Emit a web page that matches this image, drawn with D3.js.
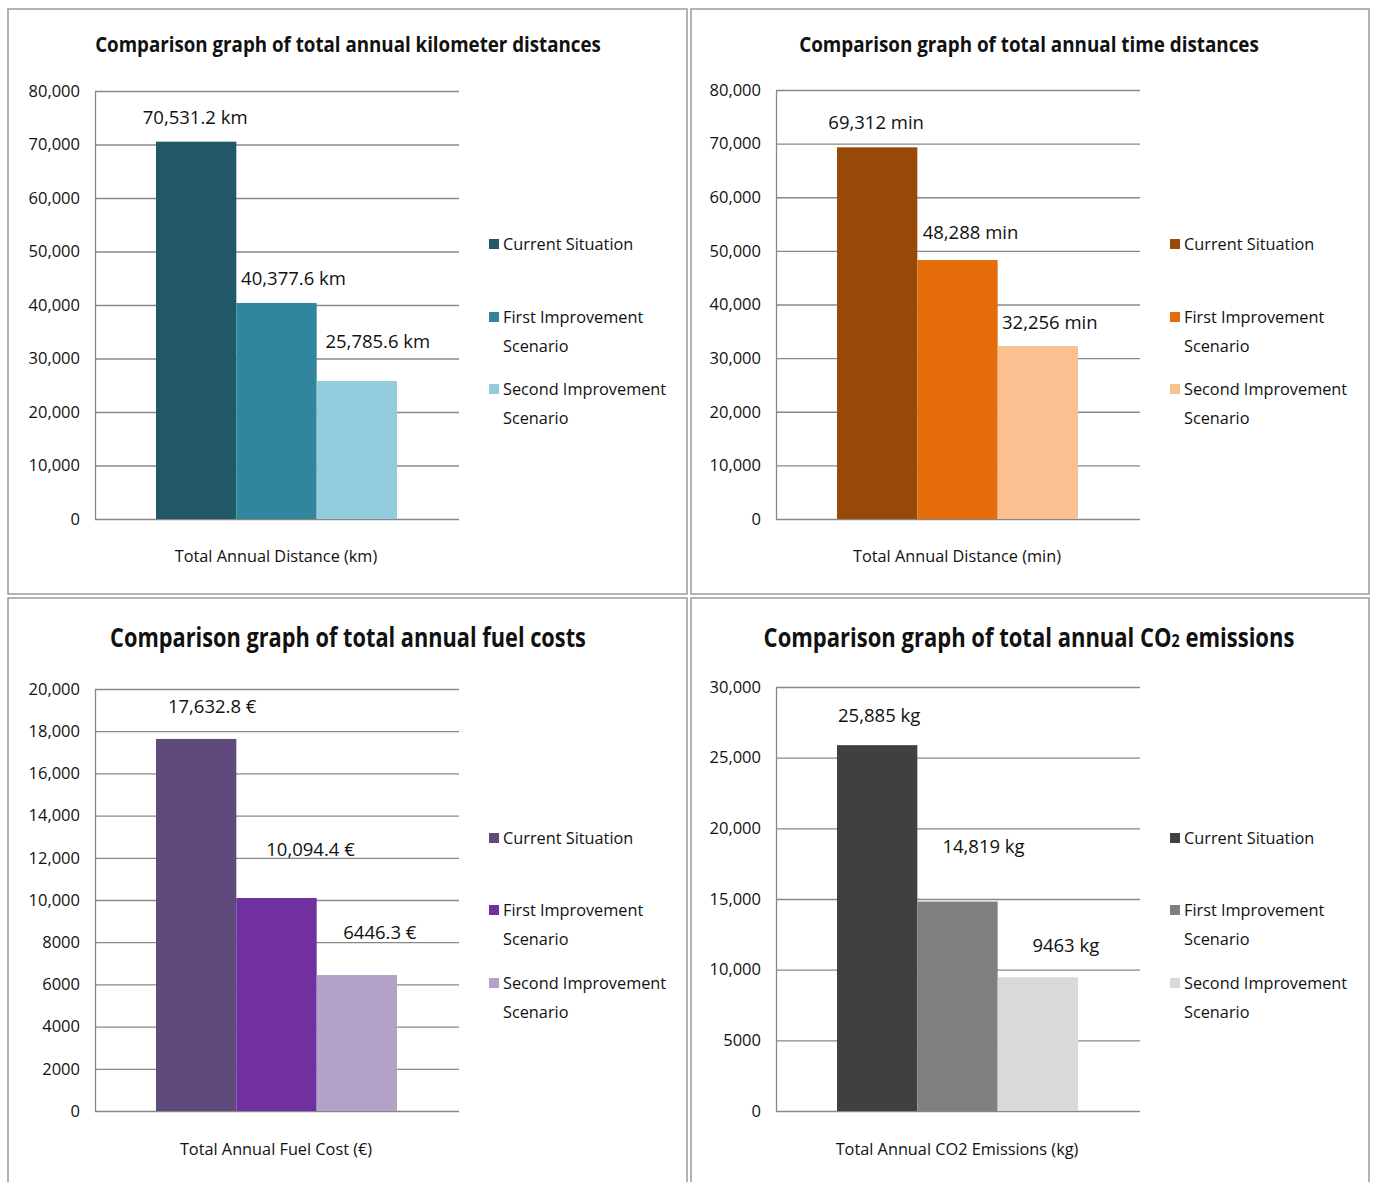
<!DOCTYPE html>
<html>
<head>
<meta charset="utf-8">
<script src="https://cdn.jsdelivr.net/npm/d3@7"></script>
<style>
  body { margin: 0; background: #fff; }
  svg text { font-family: "Liberation Sans Narrow", "Open Sans", sans-serif; fill: #111; }
</style>
</head>
<body>
<div id="chart"></div>
<script>
// Data
const scenarios = ["Current Situation", "First Improvement Scenario", "Second Improvement Scenario"];

const kmValues = [70531.2, 40377.6, 25785.6];
const kmLabels = ["70,531.2 km", "40,377.6 km", "25,785.6 km"];
const kmTicks = [0, 10000, 20000, 30000, 40000, 50000, 60000, 70000, 80000];
const kmTickLabels = ["0", "10,000", "20,000", "30,000", "40,000", "50,000", "60,000", "70,000", "80,000"];

const minValues = [69312, 48288, 32256];
const minLabels = ["69,312 min", "48,288 min", "32,256 min"];
const minTicks = kmTicks;
const minTickLabels = kmTickLabels;

const fuelValues = [17632.8, 10094.4, 6446.3];
const fuelLabels = ["17,632.8 €", "10,094.4 €", "6446.3 €"];
const fuelTicks = [0, 2000, 4000, 6000, 8000, 10000, 12000, 14000, 16000, 18000, 20000];
const fuelTickLabels = ["0", "2000", "4000", "6000", "8000", "10,000", "12,000", "14,000", "16,000", "18,000", "20,000"];

const co2Values = [25885, 14819, 9463];
const co2Labels = ["25,885 kg", "14,819 kg", "9463 kg"];
const co2Ticks = [0, 5000, 10000, 15000, 20000, 25000, 30000];
const co2TickLabels = ["0", "5000", "10,000", "15,000", "20,000", "25,000", "30,000"];

const width = 1373;
const height = 1182;

const svg = d3.select("#chart").append("svg")
    .attr("width", width)
    .attr("height", height);

// Panel layout
const panels = [
    {
        box: [8, 9, 679, 585], ox: 0,
        top: 91, bottom: 519,
        title: "Comparison graph of total annual kilometer distances", titleY: 52, titleSize: 21, titleW: 506,
        values: kmValues, labels: kmLabels, ticks: kmTicks, tickLabels: kmTickLabels,
        colors: ["#215968", "#31859c", "#93cddd"],
        labelOff: [[-1, -25], [17, -25], [21, -40]],
        legendY: [244, 317, 389],
        xLabel: "Total Annual Distance (km)", xLabelY: 562
    },
    {
        box: [691, 9, 678, 585], ox: 681,
        top: 90, bottom: 519,
        title: "Comparison graph of total annual time distances", titleY: 52, titleSize: 21, titleW: 460,
        values: minValues, labels: minLabels, ticks: minTicks, tickLabels: minTickLabels,
        colors: ["#984807", "#e46c0a", "#fac090"],
        labelOff: [[-1, -25], [13, -28], [12, -24]],
        legendY: [244, 317, 389],
        xLabel: "Total Annual Distance (min)", xLabelY: 562
    },
    {
        box: [8, 598, 679, 600], ox: 0,
        top: 689, bottom: 1111,
        title: "Comparison graph of total annual fuel costs", titleY: 647, titleSize: 26, titleW: 476,
        values: fuelValues, labels: fuelLabels, ticks: fuelTicks, tickLabels: fuelTickLabels,
        colors: ["#604a7b", "#7030a0", "#b3a2c7"],
        labelOff: [[16, -33], [34, -49], [23, -43]],
        legendY: [838, 910, 983],
        xLabel: "Total Annual Fuel Cost  (€)", xLabelY: 1155
    },
    {
        box: [691, 598, 678, 600], ox: 681,
        top: 687, bottom: 1111,
        title: "Comparison graph of total annual CO", sub: "2", titleEnd: " emissions", titleY: 647, titleSize: 26, titleW: 531,
        values: co2Values, labels: co2Labels, ticks: co2Ticks, tickLabels: co2TickLabels,
        colors: ["#404040", "#7f7f7f", "#d9d9d9"],
        labelOff: [[2, -30], [26, -56], [28, -32]],
        legendY: [838, 910, 983],
        xLabel: "Total Annual CO2 Emissions (kg)", xLabelY: 1155
    }
];

// squeeze a text horizontally around its centre to a target width
function squeeze(sel, cx, w) {
    const len = sel.node().getComputedTextLength();
    const k = w / len;
    sel.attr("transform", `translate(${cx},0) scale(${k},1) translate(${-cx},0)`);
}

panels.forEach(p => {
    const g = svg.append("g");

    // Panel frame
    g.append("rect")
        .attr("x", p.box[0])
        .attr("y", p.box[1])
        .attr("width", p.box[2])
        .attr("height", p.box[3])
        .attr("fill", "#fff")
        .attr("stroke", "#9a9a9a")
        .attr("stroke-width", 1.5);

    const axisX = 95 + p.ox;
    const axisRight = 459 + p.ox;

    // Scales
    const x = d3.scaleBand()
        .domain(scenarios)
        .range([156 + p.ox, 397 + p.ox])
        .padding(0);

    const y = d3.scaleLinear()
        .domain([0, d3.max(p.ticks)])
        .range([p.bottom, p.top]);

    // Title
    const cx = 348 + p.ox;
    const title = g.append("text")
        .attr("x", cx)
        .attr("y", p.titleY)
        .attr("text-anchor", "middle")
        .style("font-size", p.titleSize + "px")
        .style("font-weight", "bold");
    if (p.sub) {
        title.append("tspan").text(p.title);
        title.append("tspan").style("font-size", (p.titleSize * 0.65) + "px").text(p.sub);
        title.append("tspan").text(p.titleEnd);
    } else {
        title.text(p.title);
    }
    squeeze(title, cx, p.titleW);

    // Y axis with gridlines
    const yAxis = g.append("g")
        .attr("transform", `translate(${axisX},0)`)
        .call(d3.axisLeft(y)
            .tickValues(p.ticks)
            .tickFormat((d, i) => p.tickLabels[i])
            .tickSizeInner(-(axisRight - axisX))
            .tickSizeOuter(0)
            .tickPadding(15));
    yAxis.select(".domain").attr("stroke", "#888").attr("stroke-width", 1.3);
    yAxis.selectAll(".tick line").attr("stroke", "#888").attr("stroke-width", 1.3);
    yAxis.selectAll(".tick text")
        .style("font-size", "16.5px")
        .attr("fill", "#111");

    // Bars
    g.selectAll(".bar")
        .data(p.values)
        .join("rect")
        .attr("class", "bar")
        .attr("x", (d, i) => x(scenarios[i]))
        .attr("y", d => y(d))
        .attr("width", x.bandwidth())
        .attr("height", d => y(0) - y(d))
        .attr("fill", (d, i) => p.colors[i]);

    // Value labels
    g.selectAll(".value-label")
        .data(p.values)
        .join("text")
        .attr("class", "value-label")
        .attr("x", (d, i) => x(scenarios[i]) + x.bandwidth() / 2 + p.labelOff[i][0])
        .attr("y", (d, i) => y(d) + p.labelOff[i][1] + 7)
        .attr("text-anchor", "middle")
        .style("font-size", "18.5px")
        .text((d, i) => p.labels[i]);

    // Legend
    const legend = g.selectAll(".legend")
        .data(scenarios)
        .join("g")
        .attr("class", "legend")
        .attr("transform", (d, i) => `translate(${489 + p.ox},${p.legendY[i]})`);

    legend.append("rect")
        .attr("x", 0)
        .attr("y", -5)
        .attr("width", 10)
        .attr("height", 10)
        .attr("fill", (d, i) => p.colors[i]);

    legend.each(function(d) {
        const words = d.split(" ");
        const lines = words.length > 2 ? [words.slice(0, 2).join(" "), words.slice(2).join(" ")] : [d];
        const t = d3.select(this).append("text")
            .attr("x", 14)
            .attr("y", 6)
            .style("font-size", "16.3px");
        lines.forEach((line, k) => {
            t.append("tspan")
                .attr("x", 14)
                .attr("dy", k === 0 ? 0 : 29)
                .text(line);
        });
    });

    // X axis label
    g.append("text")
        .attr("x", 276 + p.ox)
        .attr("y", p.xLabelY)
        .attr("text-anchor", "middle")
        .style("font-size", "16.3px")
        .text(p.xLabel);
});
</script>
</body>
</html>
